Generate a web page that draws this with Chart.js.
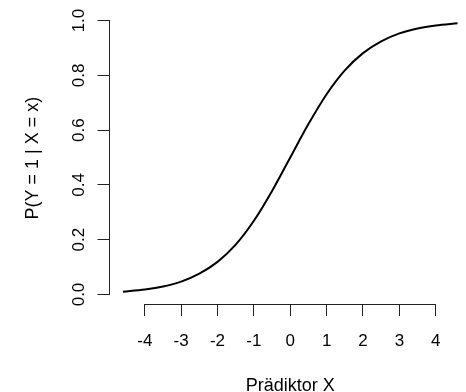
<!DOCTYPE html>
<html>
<head>
<meta charset="utf-8">
<script src="https://cdn.jsdelivr.net/npm/chart.js@4"></script>
<style>
  html, body { margin: 0; padding: 0; background: #ffffff; overflow: hidden; }
  #caja { width: 472px; height: 392px; }
</style>
</head>
<body>
<div id="caja"><canvas id="grafica" width="472" height="392"></canvas></div>
<script>
// Datos
const predictorX = [-4.6, -4, -3.5, -3, -2.5, -2, -1.5, -1, -0.5, 0, 0.5, 1, 1.5, 2, 2.5, 3, 3.5, 4, 4.6];
const probY = [0.010, 0.018, 0.029, 0.047, 0.076, 0.119, 0.182, 0.269, 0.378, 0.500, 0.622, 0.731, 0.818, 0.881, 0.924, 0.953, 0.971, 0.982, 0.990];

// Marcas de los ejes
const ticksX = [-4, -3, -2, -1, 0, 1, 2, 3, 4];
const ticksY = [0, 0.2, 0.4, 0.6, 0.8, 1.0];

const tituloX = 'Prädiktor X';
const tituloY = 'P(Y = 1 | X = x)';

const fuente = '"Liberation Sans", Arial, sans-serif';
const ctx = document.getElementById('grafica').getContext('2d');

// Líneas de eje al estilo R: sólo de la primera a la última marca
const ejesR = {
    id: 'ejesR',
    afterDraw(chart) {
        const { ctx, scales: { x, y }, chartArea } = chart;
        const alinear = v => Math.floor(v) + 0.5;
        ctx.save();
        ctx.strokeStyle = '#222';
        ctx.lineWidth = 1;
        ctx.beginPath();
        const yb = alinear(chartArea.bottom);
        ctx.moveTo(alinear(x.getPixelForValue(ticksX[0])), yb);
        ctx.lineTo(alinear(x.getPixelForValue(ticksX[ticksX.length - 1])), yb);
        const xl = alinear(chartArea.left);
        ctx.moveTo(xl, alinear(y.getPixelForValue(ticksY[0])));
        ctx.lineTo(xl, alinear(y.getPixelForValue(ticksY[ticksY.length - 1])));
        ctx.stroke();
        ctx.restore();
    }
};

const chart = new Chart(ctx, {
    type: 'line',
    data: {
        datasets: [{
            data: predictorX.map((v, i) => ({ x: v, y: probY[i] })),
            borderColor: '#000000',
            borderWidth: 2,
            pointRadius: 0,
            fill: false,
            cubicInterpolationMode: 'monotone'
        }]
    },
    options: {
        responsive: false,
        animation: false,
        devicePixelRatio: 1,
        layout: { padding: { top: 12.3, right: 1, left: 0, bottom: 0 } },
        plugins: {
            legend: { display: false },
            tooltip: { enabled: false }
        },
        scales: {
            x: {
                type: 'linear',
                min: -4.97,
                max: 4.97,
                afterFit: s => {
                    s.height = 87.9;
                    s.paddingLeft = 0;
                    s.paddingRight = 0;
                },
                afterBuildTicks: s => { s.ticks = ticksX.map(v => ({ value: v })); },
                border: { display: false },
                grid: { drawOnChartArea: false, drawTicks: true, tickLength: 12, color: '#222' },
                ticks: {
                    autoSkip: false,
                    maxRotation: 0,
                    padding: 15,
                    color: '#000000',
                    font: { family: fuente, size: 17 },
                    callback: v => String(v)
                },
                title: {
                    display: true,
                    text: tituloX,
                    color: '#000000',
                    font: { family: fuente, size: 18 },
                    padding: { top: 0, bottom: -5 }
                }
            },
            y: {
                type: 'linear',
                min: -0.035,
                max: 1.03,
                afterFit: s => {
                    s.width = 109.5;
                    s.paddingTop = 0;
                    s.paddingBottom = 0;
                },
                afterBuildTicks: s => { s.ticks = ticksY.map(v => ({ value: v })); },
                border: { display: false },
                grid: { drawOnChartArea: false, drawTicks: true, tickLength: 12, color: '#222' },
                ticks: {
                    autoSkip: false,
                    minRotation: 90,
                    maxRotation: 90,
                    crossAlign: 'center',
                    padding: 6,
                    color: '#000000',
                    font: { family: fuente, size: 17 },
                    callback: v => v.toFixed(1)
                },
                title: {
                    display: true,
                    text: tituloY,
                    color: '#000000',
                    font: { family: fuente, size: 18 },
                    padding: { top: 22, bottom: 0 }
                }
            }
        }
    },
    plugins: [ejesR]
});
</script>
</body>
</html>
